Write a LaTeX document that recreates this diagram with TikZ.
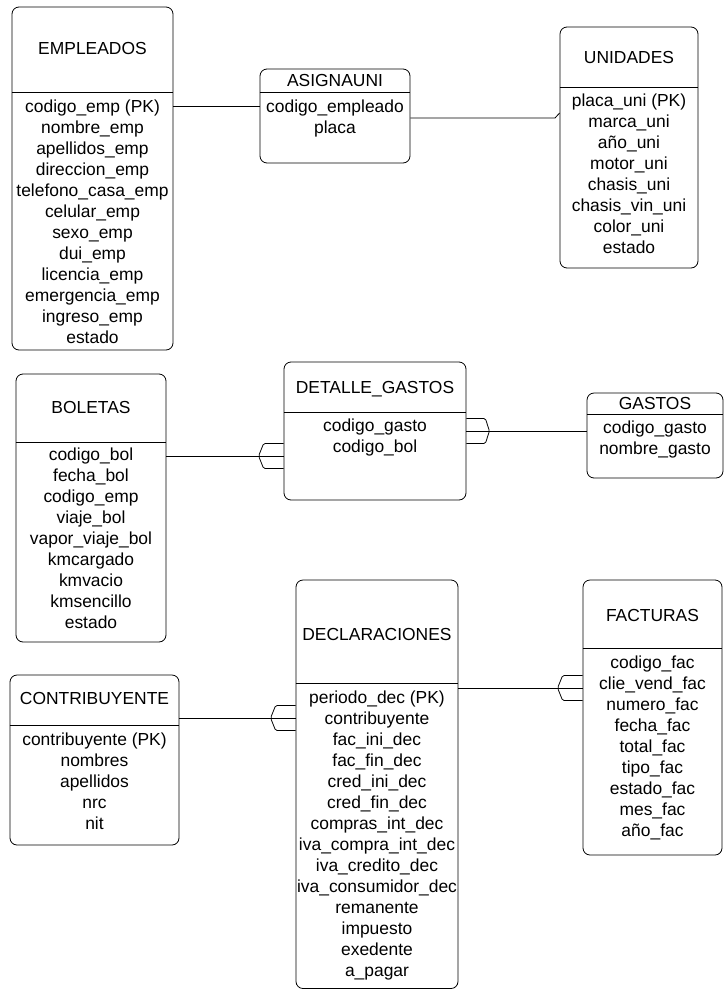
\documentclass[tikz,border=0pt]{standalone}
\usepackage{fontspec}
\setmainfont{Liberation Sans}
\usetikzlibrary{fit}

% one entity table: name, top-left, bottom-right, separator y,
% title y, title, first attribute y, attribute list
\newcommand\ertable[8]{%
  \node[tbl, fit={(#2) (#3)}] (#1) {};
  \draw[sepline] (#1.west |- 0,#4) -- (#1.east |- 0,#4);
  \pgfmathsetmacro\ttly{#5+6}
  \node[ttl] (#1-t) at (#1.center |- 0,\ttly) {#6};
  \foreach \txt [count=\k from 0] in {#8} {
    \pgfmathsetmacro\rowy{#7+6+21*\k}
    \node[attr] (#1-\k) at (#1.center |- 0,\rowy) {\txt};
  }%
}

\begin{document}
\begin{tikzpicture}[x=1bp,y=-1bp,
  tbl/.style={draw, rounded corners=7bp, inner sep=0pt, line width=0.8bp},
  sepline/.style={line width=0.8bp},
  ttl/.style={font=\fontsize{17.5}{20}\selectfont, inner sep=0pt, anchor=base},
  attr/.style={font=\fontsize{17.5}{20}\selectfont, inner sep=0pt, anchor=base},
  link/.style={line width=0.8bp},
  crowL/.pic={\draw[line width=0.8bp, rounded corners=1.5bp]
      (0,-12.5) -- (-20,-12.5) -- (-25,0) -- (-20,12.5) -- (0,12.5);},
  crowR/.pic={\draw[line width=0.8bp, rounded corners=1.5bp]
      (0,-12.5) -- (19,-12.5) -- (23,0) -- (19,12.5) -- (0,12.5);}]
\useasboundingbox (0,0) rectangle (724,991);

\ertable{emp}{12,7}{173,350}{92}{48}{EMPLEADOS}{106}{%
  codigo\_emp (PK),nombre\_emp,apellidos\_emp,direccion\_emp,
  telefono\_casa\_emp,celular\_emp,sexo\_emp,dui\_emp,licencia\_emp,
  emergencia\_emp,ingreso\_emp,estado}

\ertable{asig}{260,69}{410,163}{92}{80}{ASIGNAUNI}{106}{%
  codigo\_empleado,placa}

\ertable{uni}{560,27}{698,268}{87}{57}{UNIDADES}{100}{%
  placa\_uni (PK),marca\_uni,año\_uni,motor\_uni,chasis\_uni,
  chasis\_vin\_uni,color\_uni,estado}

\ertable{bol}{16,374}{166,642}{442}{407}{BOLETAS}{454}{%
  codigo\_bol,fecha\_bol,codigo\_emp,viaje\_bol,vapor\_viaje\_bol,
  kmcargado,kmvacio,kmsencillo,estado}

\ertable{det}{284,362}{466,500}{412}{387}{DETALLE\_GASTOS}{425}{%
  codigo\_gasto,codigo\_bol}

\ertable{gas}{587,393}{723,478}{414}{403}{GASTOS}{427}{%
  codigo\_gasto,nombre\_gasto}

\ertable{dec}{296,580}{458,988.5}{683}{634}{DECLARACIONES}{697}{%
  periodo\_dec (PK),contribuyente,fac\_ini\_dec,fac\_fin\_dec,
  cred\_ini\_dec,cred\_fin\_dec,compras\_int\_dec,iva\_compra\_int\_dec,
  iva\_credito\_dec,iva\_consumidor\_dec,remanente,impuesto,exedente,a\_pagar}

\ertable{con}{10,675}{179,845}{725}{698}{CONTRIBUYENTE}{739}{%
  contribuyente (PK),nombres,apellidos,nrc,nit}

\ertable{fac}{583,580}{722,855}{648}{615}{FACTURAS}{662}{%
  codigo\_fac,clie\_vend\_fac,numero\_fac,fecha\_fac,total\_fac,
  tipo\_fac,estado\_fac,mes\_fac,año\_fac}

% relationships
\draw[link] (emp.east |- 0,106) -- (asig.west |- 0,106);

\coordinate (asigbend) at (555,118);
\draw[link] (asig.east |- 0,118) -- (asigbend) -- (uni.west |- 0,113);

\draw[link] (bol.east |- 0,456) -- (det.west |- 0,456);
\pic at (det.west |- 0,456) {crowL};

\draw[link] (det.east |- 0,431) -- (gas.west |- 0,431);
\pic at (det.east |- 0,431) {crowR};

\draw[link] (con.east |- 0,718) -- (dec.west |- 0,718);
\pic at (dec.west |- 0,718) {crowL};

\draw[link] (dec.east |- 0,688) -- (fac.west |- 0,688);
\pic at (fac.west |- 0,688) {crowL};
\end{tikzpicture}
\end{document}
